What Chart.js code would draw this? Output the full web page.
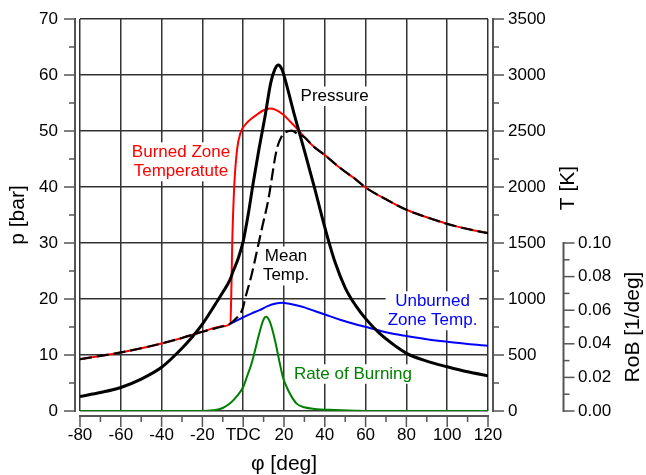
<!DOCTYPE html>
<html>
<head>
<meta charset="utf-8">
<script src="https://cdn.jsdelivr.net/npm/chart.js@4.4.0/dist/chart.umd.min.js"></script>
<style>
  html, body { margin: 0; padding: 0; background: #fff; }
  canvas { display: block; }
</style>
</head>
<body>
<canvas id="engineChart" width="646" height="475"></canvas>
<script>
// tick labels
const xTicks = [-80, -60, -40, -20, 0, 20, 40, 60, 80, 100, 120];
const xTickLabels = ['-80', '-60', '-40', '-20', 'TDC', '20', '40', '60', '80', '100', '120'];
const pTicks = [0, 10, 20, 30, 40, 50, 60, 70];
const tTicks = [0, 500, 1000, 1500, 2000, 2500, 3000, 3500];
const tTickLabels = ['0', '500', '1000', '1500', '2000', '2500', '3000', '3500'];
const robTicks = [0, 0.02, 0.04, 0.06, 0.08, 0.10];
const robTickLabels = ['0.00', '0.02', '0.04', '0.06', '0.08', '0.10'];

// cylinder pressure [bar]
const pressureDeg = [-80, -70, -60, -50, -40, -30, -25, -20, -15, -10, -6.5, -5, -2.5, 0, 2.5, 4.9, 7.7, 10.7, 13.5, 15.5, 17.2, 19, 21, 25, 30, 35, 40, 45, 50, 55, 60, 67, 75, 80, 90, 100, 110, 120];
const pressureBar = [2.6, 3.3, 4.2, 5.7, 7.8, 11.2, 13.2, 15.5, 18.3, 21.2, 23.4, 24.9, 27.2, 30.3, 35.2, 40.7, 46.7, 52.6, 58.6, 61.0, 61.8, 61.0, 58.6, 53.0, 46.5, 39.8, 32.8, 26.6, 22.0, 18.9, 16.5, 13.8, 11.5, 10.3, 8.9, 7.9, 7.0, 6.3];

// burned zone temperature [K]
const burnedDeg = [-80, -70, -60, -50, -40, -30, -20, -10, -6.3, -5.7, -5.4, -4.4, -3, -1.3, 1.7, 4, 6.6, 10, 13.1, 16, 19.7, 23, 26.2, 30, 34.4, 40, 47.5, 55, 60, 70, 80, 90, 100, 110, 120];
const burnedK = [463, 492, 523, 560, 603, 652, 707, 757, 780, 1170, 1483, 2005, 2335, 2485, 2570, 2610, 2645, 2685, 2700, 2688, 2645, 2585, 2525, 2445, 2363, 2285, 2170, 2070, 1996, 1890, 1797, 1730, 1671, 1625, 1588];

// mean temperature [K]
const meanDeg = [-80, -70, -60, -50, -40, -30, -20, -10, -6.3, -3, -1.3, 0, 1, 4.1, 9, 12.3, 16.4, 18.9, 21, 23.8, 27, 30, 34.4, 40, 47.5, 55, 60, 70, 80, 90, 100, 110, 120];
const meanK = [463, 492, 523, 560, 603, 652, 707, 757, 780, 835, 872, 930, 1006, 1215, 1617, 1886, 2333, 2453, 2490, 2503, 2470, 2445, 2363, 2285, 2170, 2070, 1996, 1890, 1797, 1730, 1671, 1625, 1588];

// unburned zone temperature [K]
const unburnedDeg = [-6.3, 0, 4, 8, 12, 16, 19, 22, 26, 30, 35, 40, 47.5, 55, 60, 70, 80, 90, 100, 110, 120];
const unburnedK = [780, 836, 870, 900, 937, 960, 966, 960, 945, 925, 893, 862, 815, 775, 752, 703, 669, 640, 618, 598, 582];

// rate of burning [1/deg]
const robDeg = [-80, -20, -15, -10, -6, -3, 0, 2, 4.1, 6, 7.4, 9.8, 11.2, 13.1, 15.6, 18, 19.5, 21.3, 23.5, 26.2, 30, 35, 45, 55, 60, 120];
const robVal = [0, 0, 0.0004, 0.0018, 0.005, 0.009, 0.0143, 0.021, 0.0283, 0.037, 0.044, 0.054, 0.0561, 0.053, 0.042, 0.028, 0.020, 0.0143, 0.009, 0.0044, 0.0022, 0.0012, 0.0006, 0.0002, 0, 0];

// curve captions, placed in (deg, bar)
const curveNotes = [
  { lines: ['Pressure'], color: '#000000', deg: 44.8, bar: 56.2 },
  { lines: ['Burned Zone', 'Temperatute'], color: '#ff0000', deg: -30.5, bar: 44.5 },
  { lines: ['Mean', 'Temp.'], color: '#000000', deg: 21.0, bar: 25.9 },
  { lines: ['Unburned', 'Zone Temp.'], color: '#0000ff', deg: 92.8, bar: 17.9 },
  { lines: ['Rate of Burning'], color: '#008000', deg: 53.8, bar: 6.6 }
];

const FONT = '"Liberation Sans", Arial, Helvetica, sans-serif';
Chart.defaults.font.family = FONT;
Chart.defaults.color = '#000';

const xy = (xs, ys) => xs.map((x, i) => ({ x: x, y: ys[i] }));
const gridColor = '#333';

function midpoints(vals) {
  const out = [];
  for (let i = 0; i < vals.length - 1; i++) out.push((vals[i] + vals[i + 1]) / 2);
  return out;
}

// fixed box sizes, and no extra label padding pushed into the layout
function fixWidth(w) {
  return s => { s.width = w; s.paddingTop = 0; s.paddingBottom = 0; };
}

const axisDecor = {
  id: 'axisDecor',
  beforeDatasetsDraw(chart) {
    const { ctx, scales } = chart;
    ctx.save();
    ctx.font = '17px ' + FONT;
    ctx.textAlign = 'center';
    ctx.textBaseline = 'middle';
    const lh = 19.5;
    curveNotes.forEach(n => {
      const cx = scales.x.getPixelForValue(n.deg);
      const cy = scales.p.getPixelForValue(n.bar);
      const w = Math.max(...n.lines.map(l => ctx.measureText(l).width));
      const h = lh * n.lines.length;
      ctx.fillStyle = '#fff';
      ctx.fillRect(cx - w / 2 - 2, cy - h / 2, w + 4, h);
      ctx.fillStyle = n.color;
      n.lines.forEach((l, i) => ctx.fillText(l, cx, cy - h / 2 + lh * (i + 0.5)));
    });
    ctx.restore();
  },
  afterDraw(chart) {
    const { ctx, chartArea: a, scales } = chart;
    const line = (x0, y0, x1, y1) => { ctx.beginPath(); ctx.moveTo(x0, y0); ctx.lineTo(x1, y1); ctx.stroke(); };
    ctx.save();
    ctx.strokeStyle = '#555';

    // left: p [bar]
    const pX = a.left - 5;
    ctx.lineWidth = 2;
    line(pX, a.top - 1, pX, a.bottom + 1);
    ctx.lineWidth = 1.5;
    pTicks.forEach(v => { const y = scales.p.getPixelForValue(v); line(pX - 11, y, pX, y); });
    midpoints(pTicks).forEach(v => { const y = scales.p.getPixelForValue(v); line(pX - 6, y, pX, y); });

    // bottom: crank angle
    const xY = a.bottom + 5;
    ctx.lineWidth = 2;
    line(a.left - 1, xY, a.right + 1, xY);
    ctx.lineWidth = 1.5;
    xTicks.forEach(v => { const x = scales.x.getPixelForValue(v); line(x, xY, x, xY + 11); });
    midpoints(xTicks).forEach(v => { const x = scales.x.getPixelForValue(v); line(x, xY, x, xY + 6); });

    // right: T [K]
    const tX = a.right + 5;
    ctx.lineWidth = 2;
    line(tX, a.top - 1, tX, a.bottom + 1);
    ctx.lineWidth = 1.5;
    tTicks.forEach(v => { const y = scales.T.getPixelForValue(v); line(tX, y, tX + 11, y); });
    midpoints(tTicks).forEach(v => { const y = scales.T.getPixelForValue(v); line(tX, y, tX + 6, y); });

    // far right: RoB [1/deg]
    const rX = scales.rob.left + 3.5;
    const rTop = scales.rob.getPixelForValue(robTicks[robTicks.length - 1]);
    const rBot = scales.rob.getPixelForValue(0);
    ctx.lineWidth = 2;
    line(rX, rTop - 1, rX, rBot + 1);
    ctx.lineWidth = 1.5;
    robTicks.forEach(v => { const y = scales.rob.getPixelForValue(v); line(rX, y, rX + 11, y); });
    midpoints(robTicks).forEach(v => { const y = scales.rob.getPixelForValue(v); line(rX, y, rX + 6, y); });

    // axis titles
    ctx.fillStyle = '#000';
    ctx.font = '21px ' + FONT;
    ctx.textAlign = 'center';
    ctx.textBaseline = 'middle';
    const vText = (t, x, y) => { ctx.save(); ctx.translate(x, y); ctx.rotate(-Math.PI / 2); ctx.fillText(t, 0, 0); ctx.restore(); };
    vText('p [bar]', 18.5, (a.top + a.bottom) / 2);
    ctx.fillText('\u03c6 [deg]', (a.left + a.right) / 2, 464);
    vText('T [K]', 568, 188);
    vText('RoB [1/deg]', 633, (rTop + rBot) / 2);
    ctx.restore();
  }
};

const common = { pointRadius: 0, fill: false, cubicInterpolationMode: 'monotone', xAxisID: 'x' };

new Chart(document.getElementById('engineChart'), {
  type: 'line',
  data: {
    datasets: [
      Object.assign({ label: 'Pressure', data: xy(pressureDeg, pressureBar), yAxisID: 'p', borderColor: '#000', borderWidth: 3, order: 0 }, common),
      Object.assign({ label: 'Mean Temp.', data: xy(meanDeg, meanK), yAxisID: 'T', borderColor: '#000', borderWidth: 2.2, borderDash: [12, 5], order: 1 }, common),
      Object.assign({ label: 'Burned Zone Temperature', data: xy(burnedDeg, burnedK), yAxisID: 'T', borderColor: '#ff0000', borderWidth: 2, order: 2 }, common),
      Object.assign({ label: 'Unburned Zone Temp.', data: xy(unburnedDeg, unburnedK), yAxisID: 'T', borderColor: '#0000ff', borderWidth: 2, order: 3 }, common),
      Object.assign({ label: 'Rate of Burning', data: xy(robDeg, robVal), yAxisID: 'rob', borderColor: '#008000', borderWidth: 2, order: 4 }, common)
    ]
  },
  options: {
    responsive: false,
    animation: false,
    devicePixelRatio: 1,
    layout: { padding: { top: 19, left: 0, right: 0, bottom: 0 } },
    plugins: { legend: { display: false }, tooltip: { enabled: false } },
    scales: {
      x: {
        type: 'linear', position: 'bottom', min: -80, max: 120,
        afterBuildTicks: s => { s.ticks = xTicks.map(v => ({ value: v })); },
        afterFit: s => { s.height = 64; s.paddingLeft = 0; s.paddingRight = 0; },
        ticks: { autoSkip: false, maxRotation: 0, padding: 14, color: '#000', font: { size: 17 },
                 callback: (v, i) => xTickLabels[i] },
        grid: { color: gridColor, lineWidth: 1.5, drawTicks: false },
        border: { display: false }
      },
      p: {
        type: 'linear', position: 'left', min: 0, max: 70,
        afterBuildTicks: s => { s.ticks = pTicks.map(v => ({ value: v })); },
        afterFit: fixWidth(80),
        ticks: { padding: 22, color: '#000', font: { size: 17 } },
        grid: { color: gridColor, lineWidth: 1.5, drawTicks: false },
        border: { display: false }
      },
      T: {
        type: 'linear', position: 'right', weight: 0, min: 0, max: 3500,
        afterBuildTicks: s => { s.ticks = tTicks.map(v => ({ value: v })); },
        afterFit: fixWidth(72),
        ticks: { padding: 20, color: '#000', font: { size: 17 }, callback: (v, i) => tTickLabels[i] },
        grid: { display: false, drawTicks: false },
        border: { display: false }
      },
      rob: {
        type: 'linear', position: 'right', weight: 1, min: 0, max: 0.1 * 70 / 30,
        afterBuildTicks: s => { s.ticks = robTicks.map(v => ({ value: v })); },
        afterFit: fixWidth(86),
        ticks: { padding: 18, color: '#000', font: { size: 17 }, callback: (v, i) => robTickLabels[i] },
        grid: { display: false, drawTicks: false },
        border: { display: false }
      }
    }
  },
  plugins: [axisDecor]
});
</script>
</body>
</html>
